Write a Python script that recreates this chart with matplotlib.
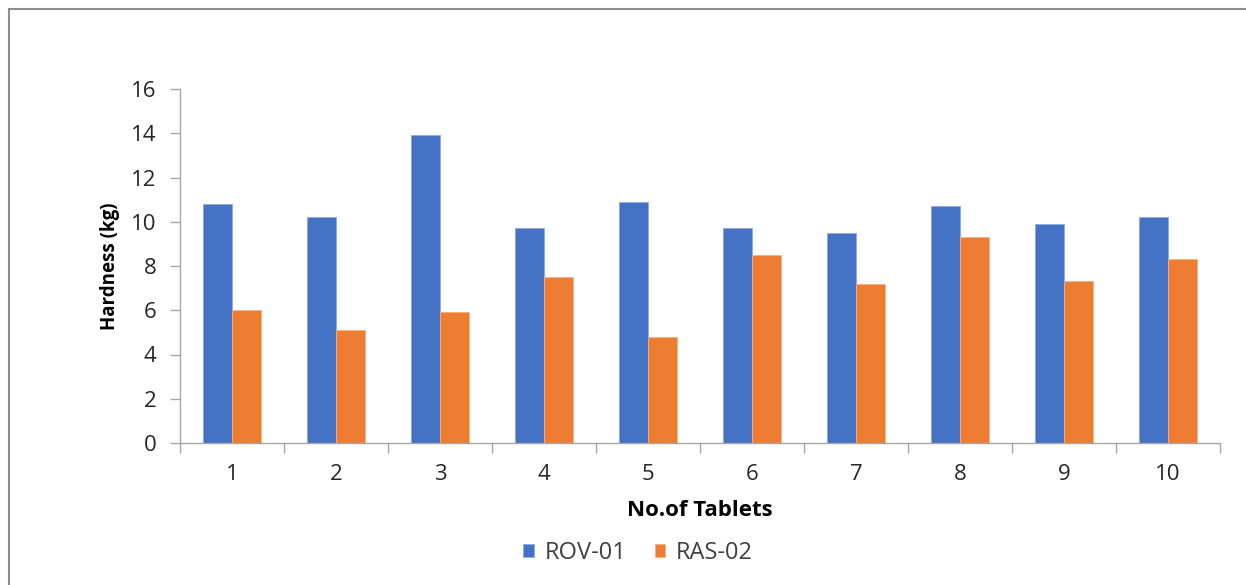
import matplotlib
matplotlib.use("Agg")
import matplotlib.pyplot as plt
from matplotlib.lines import Line2D
import numpy as np

plt.rcParams['font.family'] = ['Open Sans', 'DejaVu Sans']

# Tablet hardness for the two formulations
tablets = ['1', '2', '3', '4', '5', '6', '7', '8', '9', '10']
rov_01 = [10.8, 10.2, 13.9, 9.7, 10.9, 9.7, 9.5, 10.7, 9.9, 10.2]
ras_02 = [6.0, 5.1, 5.9, 7.5, 4.8, 8.5, 7.2, 9.3, 7.3, 8.3]
series_names = ['ROV-01', 'RAS-02']
y_ticks = [0, 2, 4, 6, 8, 10, 12, 14, 16]

blue = '#4472C4'
orange = '#ED7D31'
axis_grey = '#A6A6A6'

W, H = 1246, 585
fig = plt.figure(figsize=(W / 100, H / 100), dpi=100)
ax = fig.add_axes([180 / W, 1 - 443 / H, 1040 / W, (443 - 89) / H])

x = np.arange(len(tablets))
bw = 0.28
ax.bar(x - bw / 2, rov_01, bw, color=blue, label=series_names[0],
       edgecolor='#8FAADC', linewidth=0.6)
ax.bar(x + bw / 2, ras_02, bw, color=orange, label=series_names[1],
       edgecolor='#F4B183', linewidth=0.6)

ax.set_xlim(-0.5, len(tablets) - 0.5)
ax.set_ylim(0, 16)
ax.set_yticks(y_ticks)
ax.tick_params(axis='y', length=7, width=1, color=axis_grey, pad=10,
               labelsize=16, labelcolor='#262626')

# category boundaries carry the ticks, centres carry the labels
ax.set_xticks(np.arange(-0.5, len(tablets), 1.0))
ax.set_xticklabels([])
ax.tick_params(axis='x', which='major', length=7, width=1, color=axis_grey)
ax.set_xticks(x, minor=True)
ax.set_xticklabels(tablets, minor=True)
ax.tick_params(axis='x', which='minor', length=0, pad=15,
               labelsize=16, labelcolor='#262626')

for s in ['top', 'right']:
    ax.spines[s].set_visible(False)
for s in ['left', 'bottom']:
    ax.spines[s].set_color(axis_grey)
    ax.spines[s].set_linewidth(1)

ax.set_ylabel('Hardness (kg)', fontsize=13.5, fontweight='bold', color='#000000',
              labelpad=8)
ax.set_xlabel('No.of Tablets', fontsize=16, fontweight='bold', color='#000000',
              labelpad=11)

leg = fig.legend(loc='center', bbox_to_anchor=(638 / W, 1 - 553 / H), ncol=2,
                 frameon=False, fontsize=17, handlelength=0.45, handleheight=0.45,
                 handletextpad=0.45, columnspacing=1.2)
for t in leg.get_texts():
    t.set_color('#404040')

# chart-area border
fig.add_artist(Line2D([9 / W, 1.0], [1 - 9 / H, 1 - 9 / H], color='#8C8C8C',
                      linewidth=1.5, transform=fig.transFigure))
fig.add_artist(Line2D([9 / W, 9 / W], [0.0, 1 - 9 / H], color='#8C8C8C',
                      linewidth=1.5, transform=fig.transFigure))

fig.savefig('out.png', dpi=100, facecolor='white')
